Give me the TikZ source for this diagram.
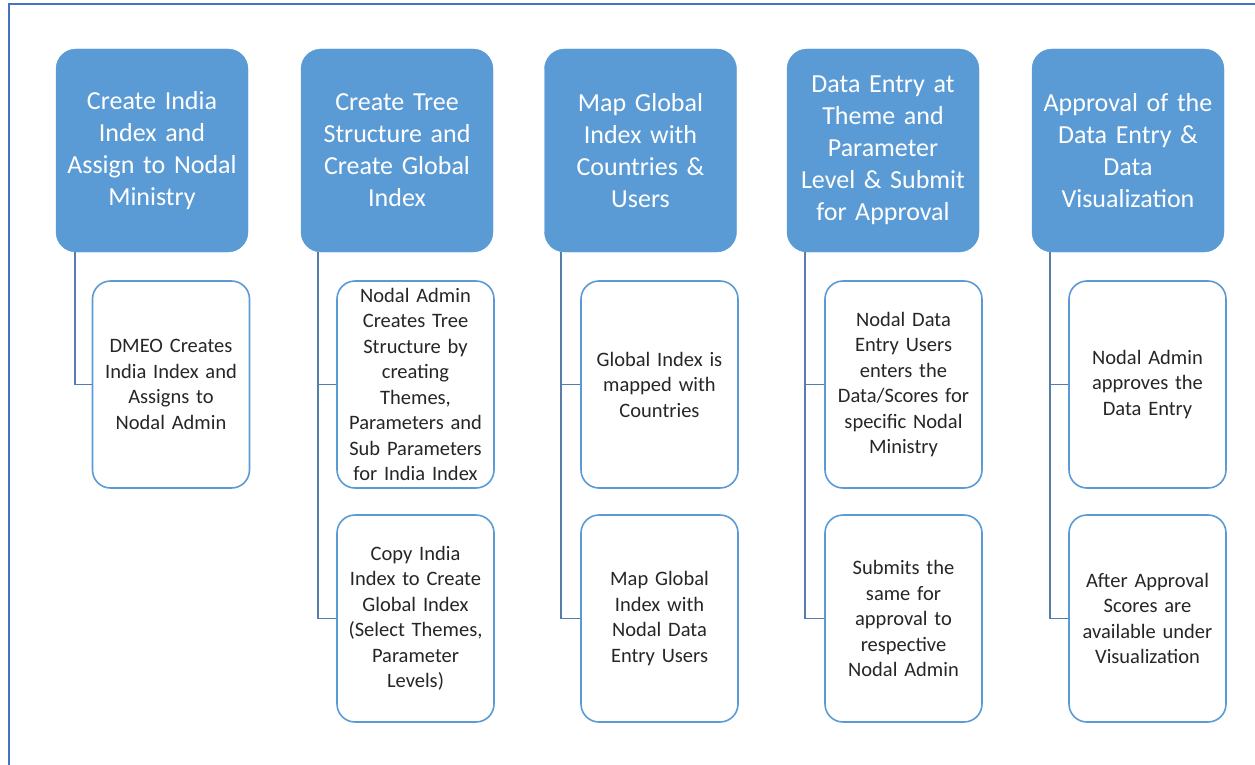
\documentclass[tikz,border=0pt]{standalone}
\usepackage{fontspec}
\setmainfont{Carlito}
\usepackage{xcolor}
\definecolor{headblue}{RGB}{91,155,213}
\definecolor{linkblue}{RGB}{84,125,170}
\definecolor{framblue}{RGB}{68,114,196}

\begin{document}
\begin{tikzpicture}[x=1pt, y=-1pt,
    headbox/.style={draw=headblue, fill=headblue, rounded corners=20pt, minimum width=192pt, minimum height=203pt,
        text width=188pt, align=center, text=white, font=\fontsize{26}{32}\selectfont, inner sep=2pt},
    itembox/.style={draw=headblue, line width=1.6pt, fill=white, rounded corners=18pt, minimum width=157pt, minimum height=207pt,
        text width=154pt, align=center, text=black!85, font=\fontsize{20.5}{25.5}\selectfont, inner sep=1pt},
    link/.style={draw=linkblue, line width=1.8pt}]
                \useasboundingbox (0,0) rectangle (1255,765);
                \draw[framblue, line width=1.6pt] (9,765) |- (1255,4);

                \node[headbox] (h1) at (152,150.5) {Create India\\Index and\\Assign to Nodal\\Ministry};
                \node[headbox] (h2) at (397,150.5) {Create Tree\\Structure and\\Create Global\\Index};
                \node[headbox] (h3) at (640.5,150.5) {Map Global\\Index with\\Countries \&\\Users};
                \node[headbox] (h4) at (883,150.5) {Data Entry at\\Theme and\\Parameter\\Level \& Submit\\for Approval};
                \node[headbox] (h5) at (1128,150.5) {Approval of the\\Data Entry \&\\Data\\Visualization};

                \node[itembox] (i11) at (171,384.5) {DMEO Creates\\India Index and\\Assigns to\\Nodal Admin};
                \node[itembox] (i21) at (415.5,384.5) {Nodal Admin\\Creates Tree\\Structure by\\creating\\Themes,\\Parameters and\\Sub Parameters\\for India Index};
                \node[itembox] (i22) at (415.5,618.5) {Copy India\\Index to Create\\Global Index\\(Select Themes,\\Parameter\\Levels)};
                \node[itembox] (i31) at (659.5,384.5) {Global Index is\\mapped with\\Countries};
                \node[itembox] (i32) at (659.5,618.5) {Map Global\\Index with\\Nodal Data\\Entry Users};
                \node[itembox] (i41) at (903.5,384.5) {Nodal Data\\Entry Users\\enters the\\Data/Scores for\\specific Nodal\\Ministry};
                \node[itembox] (i42) at (903.5,618.5) {Submits the\\same for\\approval to\\respective\\Nodal Admin};
                \node[itembox] (i51) at (1147.5,384.5) {Nodal Admin\\approves the\\Data Entry};
                \node[itembox] (i52) at (1147.5,618.5) {After Approval\\Scores are\\available under\\Visualization};

                \draw[link] ([xshift=19pt]h1.south west) |- (i11.west);
                \draw[link] ([xshift=17pt]h2.south west) |- (i21.west);
                \draw[link] ([xshift=17pt]h2.south west) |- (i22.west);
                \draw[link] ([xshift=17pt]h3.south west) |- (i31.west);
                \draw[link] ([xshift=17pt]h3.south west) |- (i32.west);
                \draw[link] ([xshift=18pt]h4.south west) |- (i41.west);
                \draw[link] ([xshift=18pt]h4.south west) |- (i42.west);
                \draw[link] ([xshift=18pt]h5.south west) |- (i51.west);
                \draw[link] ([xshift=18pt]h5.south west) |- (i52.west);
            \end{tikzpicture}
\end{document}
